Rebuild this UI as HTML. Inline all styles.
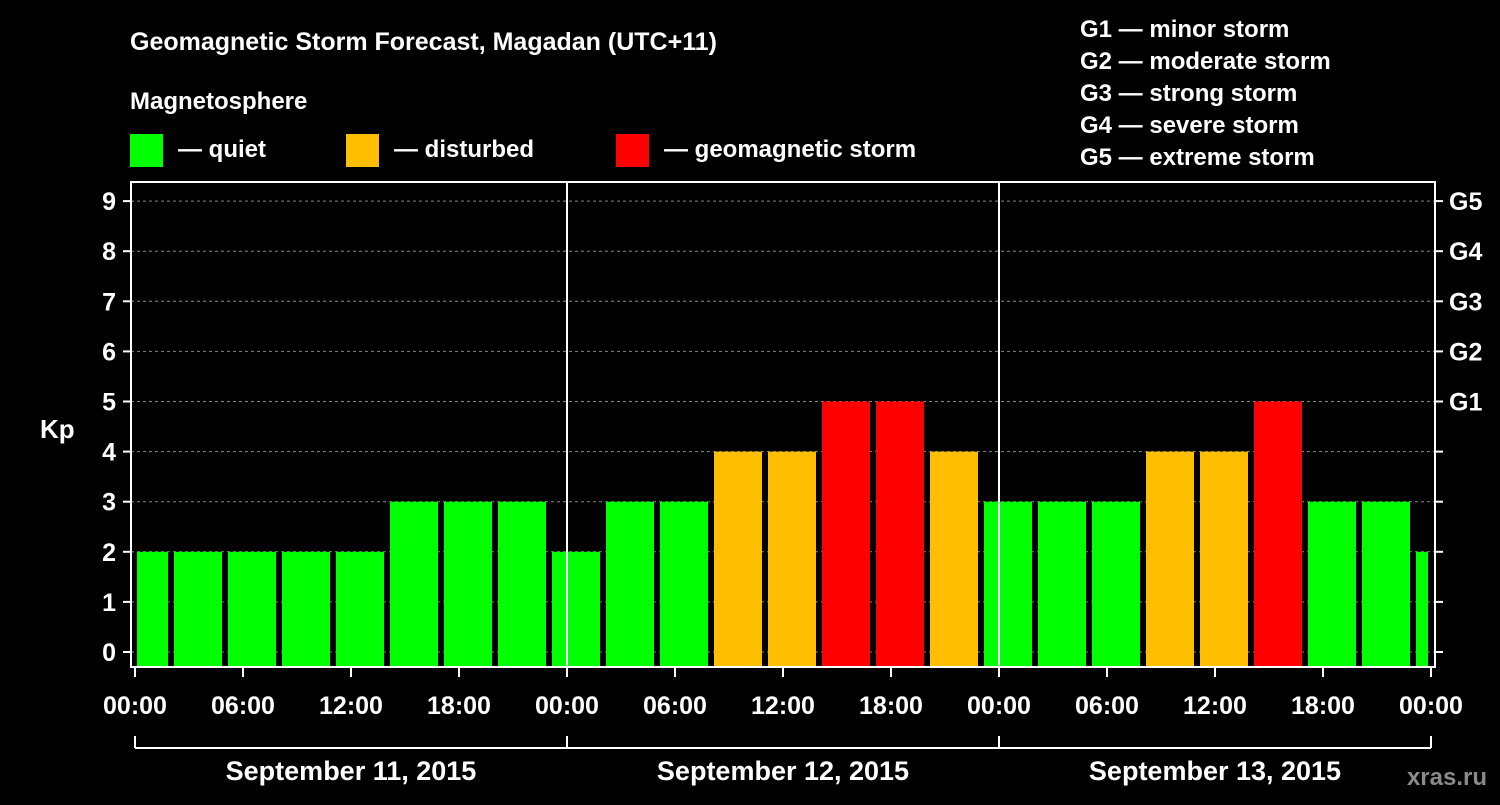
<!DOCTYPE html>
<html><head><meta charset="utf-8"><style>
body{margin:0;background:#000;}
svg text{font-family:"Liberation Sans",Arial,sans-serif;font-weight:bold;fill:#fff;}
</style></head><body>
<svg width="1500" height="800" viewBox="0 0 1500 800">
<rect width="1500" height="800" fill="#000"/>
<text x="130" y="50" font-size="25">Geomagnetic Storm Forecast, Magadan (UTC+11)</text>
<text x="130" y="109" font-size="24">Magnetosphere</text>
<g><rect x="130" y="134" width="33" height="33" fill="#00ff00"/><text x="178" y="157" font-size="24">— quiet</text></g>
<g><rect x="346" y="134" width="33" height="33" fill="#ffbf00"/><text x="394" y="157" font-size="24">— disturbed</text></g>
<g><rect x="616" y="134" width="33" height="33" fill="#ff0000"/><text x="664" y="157" font-size="24">— geomagnetic storm</text></g>
<g font-size="24">
<text x="1080" y="37">G1 — minor storm</text>
<text x="1080" y="69">G2 — moderate storm</text>
<text x="1080" y="101">G3 — strong storm</text>
<text x="1080" y="133">G4 — severe storm</text>
<text x="1080" y="165">G5 — extreme storm</text>
</g>
<text x="40" y="438" font-size="26">Kp</text>
<text x="1487" y="785" font-size="24" text-anchor="end" fill="#888" style="fill:#8a8a8a">xras.ru</text>
<g id="plot"></g>
</svg>
<script>
const kpValues=[2,2,2,2,2,3,3,3,2,3,3,4,4,5,5,4,3,3,3,4,4,5,3,3,2];
const dayLabels=["September 11, 2015","September 12, 2015","September 13, 2015"];
const hourTicks=["00:00","06:00","12:00","18:00","00:00","06:00","12:00","18:00","00:00","06:00","12:00","18:00","00:00"];
const gLabels=["G1","G2","G3","G4","G5"];
const X0=135,PXH=18,LEFT=131,RIGHT=1435,TOP=182,BOT=667;
const xs=h=>X0+h*PXH;
const ys=v=>652-v*50.1;
const ns="http://www.w3.org/2000/svg";
const plot=document.getElementById('plot');
function mk(t,a,p){const e=document.createElementNS(ns,t);for(const k in a)e.setAttribute(k,a[k]);(p||plot).appendChild(e);return e;}
// grid
for(let v=0;v<=9;v++){
 const l=mk('line',{x1:LEFT,x2:RIGHT,y1:ys(v),y2:ys(v),stroke:'#888','stroke-dasharray':'3,3','stroke-width':1});
 
 
}
// bars
kpValues.forEach((v,i)=>{
 let h0=-1+3*i,h1=h0+3;
 let x0=Math.max(xs(h0)+3,LEFT+6),x1=Math.min(xs(h1)-3,RIGHT-7);
 const c=v>=5?'#ff0000':(v>=4?'#ffbf00':'#00ff00');
 const r=mk('rect',{x:x0,y:ys(v),width:x1-x0,height:BOT-ys(v),fill:c});
 
 
});
// frame
const f=mk('rect',{x:LEFT,y:TOP,width:RIGHT-LEFT,height:BOT-TOP,fill:'none',stroke:'#fff','stroke-width':2});


[24,48].forEach(h=>{const l=mk('line',{x1:xs(h),x2:xs(h),y1:TOP,y2:BOT,stroke:'#fff','stroke-width':2});
 
 });
// y ticks
for(let v=0;v<=9;v++){
 mk('line',{x1:LEFT-8,x2:LEFT,y1:ys(v),y2:ys(v),stroke:'#fff','stroke-width':2});
 mk('line',{x1:RIGHT,x2:RIGHT+8,y1:ys(v),y2:ys(v),stroke:'#fff','stroke-width':2});
 const t=mk('text',{x:116,y:ys(v)+9,'font-size':25,'text-anchor':'end'});t.textContent=v;
 
 
}
gLabels.forEach((g,i)=>{const t=mk('text',{x:1449,y:ys(5+i)+9,'font-size':25});t.textContent=g;
 
 });
// x ticks
hourTicks.forEach((s,i)=>{const x=xs(i*6);
 mk('line',{x1:x,x2:x,y1:BOT,y2:BOT+10,stroke:'#fff','stroke-width':2});
 const t=mk('text',{x:x,y:714,'font-size':25,'text-anchor':'middle'});t.textContent=s;
 
 });
// date brackets
mk('line',{x1:xs(0),x2:xs(72),y1:748,y2:748,stroke:'#fff','stroke-width':2});
[0,24,48,72].forEach(h=>mk('line',{x1:xs(h),x2:xs(h),y1:736,y2:748,stroke:'#fff','stroke-width':2}));
dayLabels.forEach((d,i)=>{const t=mk('text',{x:xs(12+24*i),y:780,'font-size':27,'text-anchor':'middle'});t.textContent=d;
 
 });
</script>
</body></html>
